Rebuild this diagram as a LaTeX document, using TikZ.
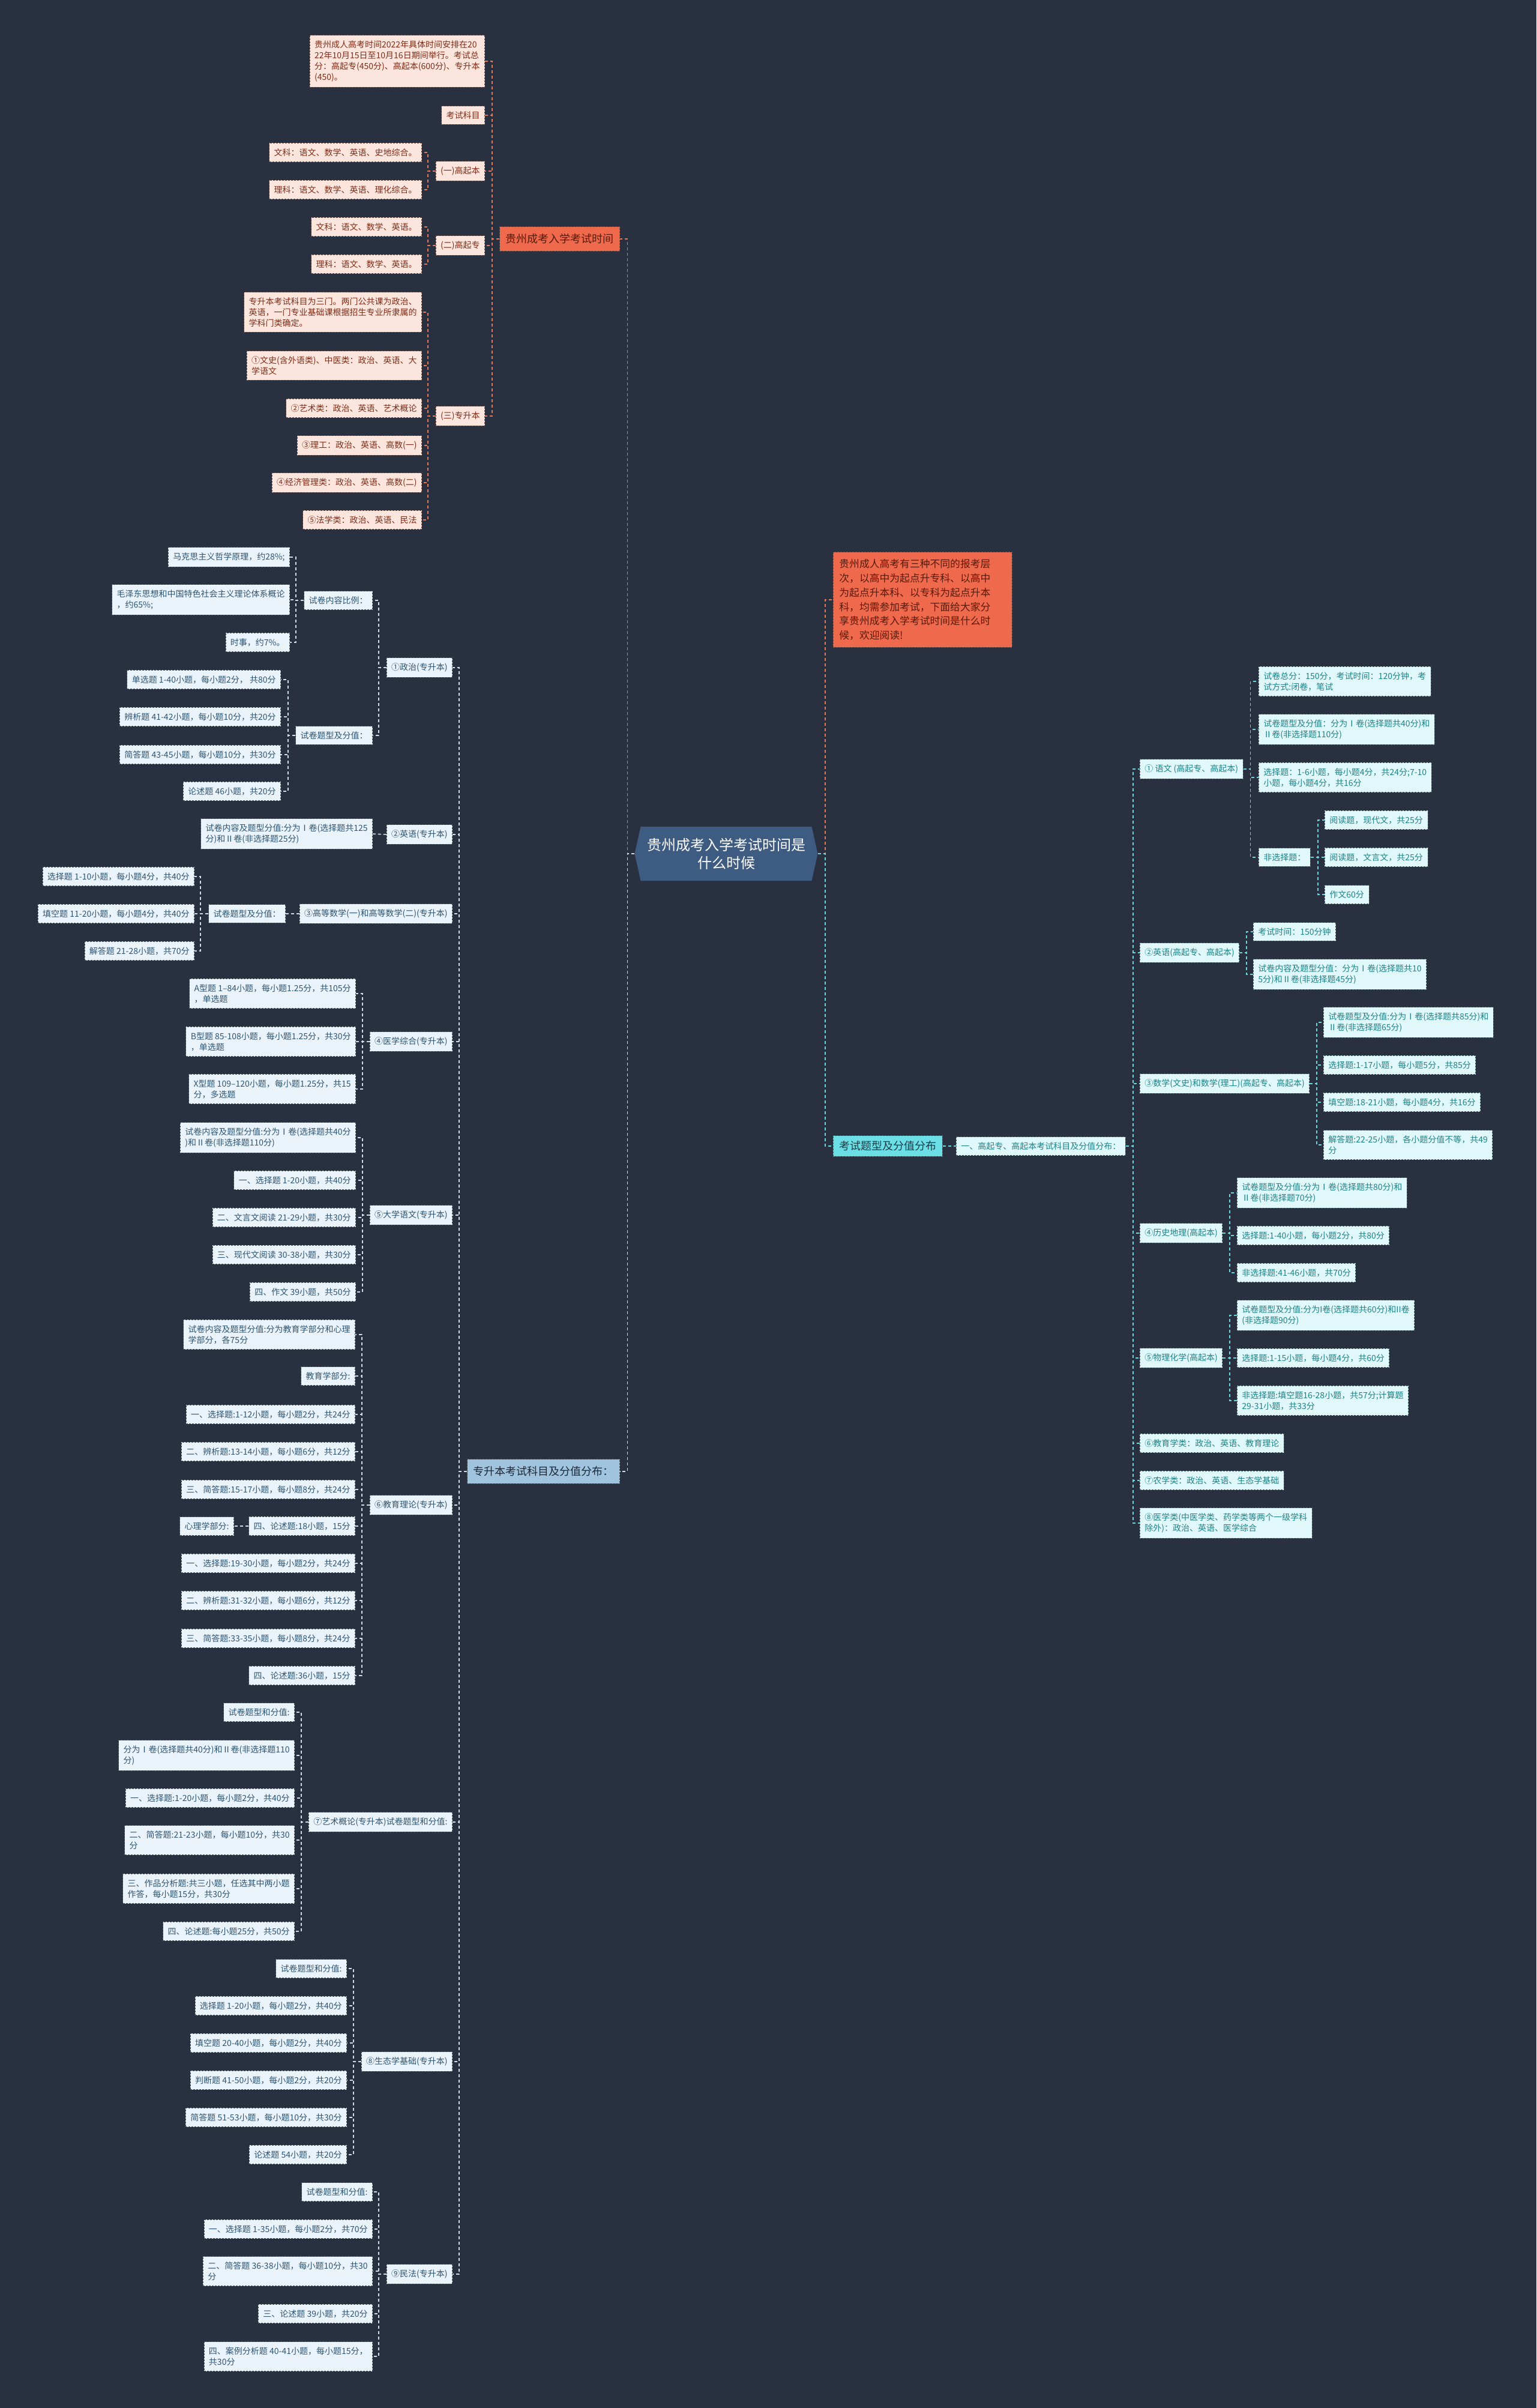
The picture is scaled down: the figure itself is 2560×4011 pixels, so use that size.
\documentclass[tikz,border=0pt]{standalone}
\usepackage{fontspec}
\setmainfont{Noto Sans CJK SC}
\usetikzlibrary{shapes.symbols}
\definecolor{bg}{RGB}{41,49,64}
\definecolor{cfill}{RGB}{62,91,130}
\definecolor{o1fill}{RGB}{239,106,76}
\definecolor{o1text}{RGB}{90,25,10}
\definecolor{olfill}{RGB}{252,229,220}
\definecolor{oltext}{RGB}{125,45,25}
\definecolor{olline}{RGB}{110,80,70}
\definecolor{ocol}{RGB}{226,120,92}
\definecolor{b1fill}{RGB}{160,196,222}
\definecolor{b1text}{RGB}{30,40,55}
\definecolor{blfill}{RGB}{234,243,249}
\definecolor{bltext}{RGB}{45,85,115}
\definecolor{blline}{RGB}{80,90,100}
\definecolor{bcol}{RGB}{205,220,230}
\definecolor{c1fill}{RGB}{108,222,230}
\definecolor{c1text}{RGB}{30,60,70}
\definecolor{clfill}{RGB}{224,248,250}
\definecolor{cltext}{RGB}{30,130,135}
\definecolor{clline}{RGB}{70,100,105}
\definecolor{ccol}{RGB}{108,214,222}
\tikzset{
  leaf/.style={rectangle, align=left, inner xsep=8pt, inner ysep=9pt,
    font=\fontsize{14}{18}\selectfont, draw, dash pattern=on 3pt off 2pt, line width=0.8pt},
  ol/.style={leaf, fill=olfill, draw=olline, text=oltext},
  bl/.style={leaf, fill=blfill, draw=blline, text=bltext},
  cl/.style={leaf, fill=clfill, draw=clline, text=cltext},
  lone/.style={rectangle, align=left, inner xsep=10pt, inner ysep=12pt,
    font=\fontsize{18}{22}\selectfont, draw, dash pattern=on 3pt off 2pt, line width=0.8pt},
  oc/.style={draw=ocol, line width=1.6pt, dash pattern=on 5pt off 4pt},
  bc/.style={draw=bcol, line width=1.6pt, dash pattern=on 5pt off 4pt},
  cc/.style={draw=ccol, line width=1.6pt, dash pattern=on 5pt off 4pt}
}
\begin{document}
\begin{tikzpicture}[x={(1pt,0pt)}, y={(0pt,-1pt)}]
\fill[bg] (0,0) rectangle (2560,4011);
\useasboundingbox (0,0) rectangle (2560,4011);

% central
\node[shape=signal, signal to=west and east, signal pointer angle=155,
  fill=cfill, text=white, font=\fontsize{24}{30}\selectfont, align=center,
  minimum width=305pt, minimum height=90pt, inner xsep=8pt] (c) at (1210,1422)
  {贵州成考入学考试时间是\\什么时候};

% ===== orange branch =====
\node[lone, fill=o1fill, draw=olline, text=o1text, anchor=east] (t1) at (1033,398) {贵州成考入学考试时间};
\node[ol, anchor=east] (t1a) at (808,102) {贵州成人高考时间2022年具体时间安排在20\\22年10月15日至10月16日期间举行。考试总\\分：高起专(450分)、高起本(600分)、专升本\\(450)。};
\node[ol, anchor=east] (t1b) at (808,192) {考试科目};
\node[ol, anchor=east] (t1c) at (808,285) {(一)高起本};
\node[ol, anchor=east] (t1d) at (808,409) {(二)高起专};
\node[ol, anchor=east] (t1e) at (808,693) {(三)专升本};
\node[ol, anchor=east] (t1c1) at (703,254) {文科：语文、数学、英语、史地综合。};
\node[ol, anchor=east] (t1c2) at (703,316) {理科：语文、数学、英语、理化综合。};
\node[ol, anchor=east] (t1d1) at (703,378) {文科：语文、数学、英语。};
\node[ol, anchor=east] (t1d2) at (703,440) {理科：语文、数学、英语。};
\node[ol, anchor=east] (t1e1) at (703,520) {专升本考试科目为三门。两门公共课为政治、\\英语，一门专业基础课根据招生专业所隶属的\\学科门类确定。};
\node[ol, anchor=east] (t1e2) at (703,609) {①文史(含外语类)、中医类：政治、英语、大\\学语文};
\node[ol, anchor=east] (t1e3) at (703,680) {②艺术类：政治、英语、艺术概论};
\node[ol, anchor=east] (t1e4) at (703,742) {③理工：政治、英语、高数(一)};
\node[ol, anchor=east] (t1e5) at (703,804) {④经济管理类：政治、英语、高数(二)};
\node[ol, anchor=east] (t1e6) at (703,866) {⑤法学类：政治、英语、民法};

\draw[oc] (c.west) -- ++(-12,0) |- (t1.east);
\foreach \n in {t1a,t1b,t1c,t1d,t1e} \draw[oc] (t1.west) -- ++(-12,0) |- (\n.east);
\foreach \n in {t1c1,t1c2} \draw[oc] (t1c.west) -- ++(-13,0) |- (\n.east);
\foreach \n in {t1d1,t1d2} \draw[oc] (t1d.west) -- ++(-13,0) |- (\n.east);
\foreach \n in {t1e1,t1e2,t1e3,t1e4,t1e5,t1e6} \draw[oc] (t1e.west) -- ++(-13,0) |- (\n.east);

% ===== blue branch =====
\node[lone, fill=b1fill, draw=blline, text=b1text, anchor=east] (b1) at (1033,2451) {专升本考试科目及分值分布：};
\node[bl, anchor=east] (p1) at (754,1112) {①政治(专升本)};
\node[bl, anchor=east] (p2) at (754,1390) {②英语(专升本)};
\node[bl, anchor=east] (p3) at (754,1522) {③高等数学(一)和高等数学(二)(专升本)};
\node[bl, anchor=east] (p4) at (754,1735) {④医学综合(专升本)};
\node[bl, anchor=east] (p5) at (754,2024) {⑤大学语文(专升本)};
\node[bl, anchor=east] (p6) at (754,2507) {⑥教育理论(专升本)};
\node[bl, anchor=east] (p7) at (754,3035) {⑦艺术概论(专升本)试卷题型和分值:};
\node[bl, anchor=east] (p8) at (754,3434) {⑧生态学基础(专升本)};
\node[bl, anchor=east] (p9) at (754,3788) {⑨民法(专升本)};

\node[bl, anchor=east] (p1a) at (621,1000) {试卷内容比例：};
\node[bl, anchor=east] (p1b) at (621,1225) {试卷题型及分值：};
\node[bl, anchor=east] (p1a1) at (483,928) {马克思主义哲学原理，约28\%;};
\node[bl, anchor=east] (p1a2) at (483,999) {毛泽东思想和中国特色社会主义理论体系概论\\，约65\%;};
\node[bl, anchor=east] (p1a3) at (483,1070) {时事，约7\%。};
\node[bl, anchor=east] (p1b1) at (468,1132) {单选题 1-40小题，每小题2分， 共80分};
\node[bl, anchor=east] (p1b2) at (468,1194) {辨析题 41-42小题，每小题10分，共20分};
\node[bl, anchor=east] (p1b3) at (468,1257) {简答题 43-45小题，每小题10分，共30分};
\node[bl, anchor=east] (p1b4) at (468,1318) {论述题 46小题，共20分};

\node[bl, anchor=east] (p2a) at (621,1389) {试卷内容及题型分值:分为Ⅰ卷(选择题共125\\分)和Ⅱ卷(非选择题25分)};

\node[bl, anchor=east] (p3a) at (476,1522) {试卷题型及分值：};
\node[bl, anchor=east] (p3a1) at (324,1460) {选择题 1-10小题，每小题4分，共40分};
\node[bl, anchor=east] (p3a2) at (324,1522) {填空题 11-20小题，每小题4分，共40分};
\node[bl, anchor=east] (p3a3) at (324,1584) {解答题 21-28小题，共70分};

\node[bl, anchor=east] (p4a) at (593,1655) {A型题 1--84小题，每小题1.25分，共105分\\，单选题};
\node[bl, anchor=east] (p4b) at (593,1735) {B型题 85-108小题，每小题1.25分，共30分\\，单选题};
\node[bl, anchor=east] (p4c) at (593,1814) {X型题 109--120小题，每小题1.25分，共15\\分，多选题};

\node[bl, anchor=east] (p5a) at (593,1895) {试卷内容及题型分值:分为Ⅰ卷(选择题共40分\\)和Ⅱ卷(非选择题110分)};
\node[bl, anchor=east] (p5b) at (593,1966) {一、选择题 1-20小题，共40分};
\node[bl, anchor=east] (p5c) at (593,2028) {二、文言文阅读 21-29小题，共30分};
\node[bl, anchor=east] (p5d) at (593,2090) {三、现代文阅读 30-38小题，共30分};
\node[bl, anchor=east] (p5e) at (593,2152) {四、作文 39小题，共50分};

\node[bl, anchor=east] (p6a) at (592,2223) {试卷内容及题型分值:分为教育学部分和心理\\学部分，各75分};
\node[bl, anchor=east] (p6b) at (592,2292) {教育学部分:};
\node[bl, anchor=east] (p6c) at (592,2356) {一、选择题:1-12小题，每小题2分，共24分};
\node[bl, anchor=east] (p6d) at (592,2418) {二、辨析题:13-14小题，每小题6分，共12分};
\node[bl, anchor=east] (p6e) at (592,2481) {三、简答题:15-17小题，每小题8分，共24分};
\node[bl, anchor=east] (p6f) at (592,2542) {四、论述题:18小题，15分};
\node[bl, anchor=east] (p6f1) at (390,2542) {心理学部分:};
\node[bl, anchor=east] (p6g) at (592,2604) {一、选择题:19-30小题，每小题2分，共24分};
\node[bl, anchor=east] (p6h) at (592,2666) {二、辨析题:31-32小题，每小题6分，共12分};
\node[bl, anchor=east] (p6i) at (592,2729) {三、简答题:33-35小题，每小题8分，共24分};
\node[bl, anchor=east] (p6j) at (592,2791) {四、论述题:36小题，15分};

\node[bl, anchor=east] (p7a) at (491,2852) {试卷题型和分值:};
\node[bl, anchor=east] (p7b) at (491,2924) {分为Ⅰ卷(选择题共40分)和Ⅱ卷(非选择题110\\分)};
\node[bl, anchor=east] (p7c) at (491,2995) {一、选择题:1-20小题，每小题2分，共40分};
\node[bl, anchor=east] (p7d) at (491,3065) {二、简答题:21-23小题，每小题10分，共30\\分};
\node[bl, anchor=east] (p7e) at (491,3146) {三、作品分析题:共三小题，任选其中两小题\\作答，每小题15分，共30分};
\node[bl, anchor=east] (p7f) at (491,3217) {四、论述题:每小题25分，共50分};

\node[bl, anchor=east] (p8a) at (578,3279) {试卷题型和分值:};
\node[bl, anchor=east] (p8b) at (578,3341) {选择题 1-20小题，每小题2分，共40分};
\node[bl, anchor=east] (p8c) at (578,3403) {填空题 20-40小题，每小题2分，共40分};
\node[bl, anchor=east] (p8d) at (578,3465) {判断题 41-50小题，每小题2分，共20分};
\node[bl, anchor=east] (p8e) at (578,3527) {简答题 51-53小题，每小题10分，共30分};
\node[bl, anchor=east] (p8f) at (578,3589) {论述题 54小题，共20分};

\node[bl, anchor=east] (p9a) at (621,3651) {试卷题型和分值:};
\node[bl, anchor=east] (p9b) at (621,3713) {一、选择题 1-35小题，每小题2分，共70分};
\node[bl, anchor=east] (p9c) at (621,3783) {二、简答题 36-38小题，每小题10分，共30\\分};
\node[bl, anchor=east] (p9d) at (621,3854) {三、论述题 39小题，共20分};
\node[bl, anchor=east] (p9e) at (621,3925) {四、案例分析题 40-41小题，每小题15分，\\共30分};

\draw[bc] (c.west) -- ++(-12,0) |- (b1.east);
\foreach \n in {p1,p2,p3,p4,p5,p6,p7,p8,p9} \draw[bc] (b1.west) -- ++(-13,0) |- (\n.east);
\foreach \n in {p1a,p1b} \draw[bc] (p1.west) -- ++(-13,0) |- (\n.east);
\foreach \n in {p1a1,p1a2,p1a3} \draw[bc] (p1a.west) -- ++(-13,0) |- (\n.east);
\foreach \n in {p1b1,p1b2,p1b3,p1b4} \draw[bc] (p1b.west) -- ++(-12,0) |- (\n.east);
\draw[bc] (p2.west) -- (p2a.east);
\draw[bc] (p3.west) -- (p3a.east);
\foreach \n in {p3a1,p3a2,p3a3} \draw[bc] (p3a.west) -- ++(-13,0) |- (\n.east);
\foreach \n in {p4a,p4b,p4c} \draw[bc] (p4.west) -- ++(-12,0) |- (\n.east);
\foreach \n in {p5a,p5b,p5c,p5d,p5e} \draw[bc] (p5.west) -- ++(-12,0) |- (\n.east);
\foreach \n in {p6a,p6b,p6c,p6d,p6e,p6f,p6g,p6h,p6i,p6j} \draw[bc] (p6.west) -- ++(-13,0) |- (\n.east);
\draw[bc] (p6f.west) -- (p6f1.east);
\foreach \n in {p7a,p7b,p7c,p7d,p7e,p7f} \draw[bc] (p7.west) -- ++(-12,0) |- (\n.east);
\foreach \n in {p8a,p8b,p8c,p8d,p8e,p8f} \draw[bc] (p8.west) -- ++(-13,0) |- (\n.east);
\foreach \n in {p9a,p9b,p9c,p9d,p9e} \draw[bc] (p9.west) -- ++(-13,0) |- (\n.east);

% ===== right side =====
\node[rectangle, align=left, text width=278pt, inner xsep=10pt, inner ysep=12pt, fill=o1fill, draw=olline,
  dash pattern=on 3pt off 2pt, line width=0.8pt, text=o1text,
  font=\fontsize{16.8}{23.8}\selectfont, anchor=west] (intro) at (1388,999)
  {贵州成人高考有三种不同的报考层\\次，以高中为起点升专科、以高中\\为起点升本科、以专科为起点升本\\科，均需参加考试，下面给大家分\\享贵州成考入学考试时间是什么时\\候，欢迎阅读!};
\node[lone, fill=c1fill, draw=clline, text=c1text, anchor=west, inner ysep=9pt] (r1) at (1388,1909) {考试题型及分值分布};
\node[cl, anchor=west] (r2) at (1593,1909) {一、高起专、高起本考试科目及分值分布：};

\node[cl, anchor=west] (s1) at (1899,1281) {① 语文 (高起专、高起本)};
\node[cl, anchor=west] (s2) at (1899,1587) {②英语(高起专、高起本)};
\node[cl, anchor=west] (s3) at (1899,1805) {③数学(文史)和数学(理工)(高起专、高起本)};
\node[cl, anchor=west] (s4) at (1899,2054) {④历史地理(高起本)};
\node[cl, anchor=west] (s5) at (1899,2262) {⑤物理化学(高起本)};
\node[cl, anchor=west] (s6) at (1899,2404) {⑥教育学类：政治、英语、教育理论};
\node[cl, anchor=west] (s7) at (1899,2466) {⑦农学类：政治、英语、生态学基础};
\node[cl, anchor=west] (s8) at (1899,2537) {⑧医学类(中医学类、药学类等两个一级学科\\除外)：政治、英语、医学综合};

\node[cl, anchor=west] (s1a) at (2097,1135) {试卷总分：150分，考试时间：120分钟，考\\试方式:闭卷，笔试};
\node[cl, anchor=west] (s1b) at (2097,1215) {试卷题型及分值：分为Ⅰ卷(选择题共40分)和\\Ⅱ卷(非选择题110分)};
\node[cl, anchor=west] (s1c) at (2097,1295) {选择题：1-6小题，每小题4分，共24分;7-10\\小题，每小题4分，共16分};
\node[cl, anchor=west] (s1d) at (2097,1428) {非选择题：};
\node[cl, anchor=west] (s1d1) at (2207,1366) {阅读题，现代文，共25分};
\node[cl, anchor=west] (s1d2) at (2207,1428) {阅读题，文言文，共25分};
\node[cl, anchor=west] (s1d3) at (2207,1490) {作文60分};

\node[cl, anchor=west] (s2a) at (2088,1552) {考试时间：150分钟};
\node[cl, anchor=west] (s2b) at (2088,1623) {试卷内容及题型分值：分为Ⅰ卷(选择题共10\\5分)和Ⅱ卷(非选择题45分)};

\node[cl, anchor=west] (s3a) at (2205,1703) {试卷题型及分值:分为Ⅰ卷(选择题共85分)和\\Ⅱ卷(非选择题65分)};
\node[cl, anchor=west] (s3b) at (2205,1774) {选择题:1-17小题，每小题5分，共85分};
\node[cl, anchor=west] (s3c) at (2205,1836) {填空题:18-21小题，每小题4分，共16分};
\node[cl, anchor=west] (s3d) at (2205,1907) {解答题:22-25小题，各小题分值不等，共49\\分};

\node[cl, anchor=west] (s4a) at (2061,1987) {试卷题型及分值:分为Ⅰ卷(选择题共80分)和\\Ⅱ卷(非选择题70分)};
\node[cl, anchor=west] (s4b) at (2061,2058) {选择题:1-40小题，每小题2分，共80分};
\node[cl, anchor=west] (s4c) at (2061,2120) {非选择题:41-46小题，共70分};

\node[cl, anchor=west] (s5a) at (2061,2191) {试卷题型及分值:分为I卷(选择题共60分)和II卷\\(非选择题90分)};
\node[cl, anchor=west] (s5b) at (2061,2262) {选择题:1-15小题，每小题4分，共60分};
\node[cl, anchor=west] (s5c) at (2061,2333) {非选择题:填空题16-28小题，共57分;计算题\\29-31小题，共33分};

\draw[oc] (c.east) -- ++(12,0) |- (intro.west);
\draw[cc] (c.east) -- ++(12,0) |- (r1.west);
\draw[cc] (r1.east) -- (r2.west);
\foreach \n in {s1,s2,s3,s4,s5,s6,s7,s8} \draw[cc] (r2.east) -- ++(12,0) |- (\n.west);
\foreach \n in {s1a,s1b,s1c,s1d} \draw[cc] (s1.east) -- ++(12,0) |- (\n.west);
\foreach \n in {s1d1,s1d2,s1d3} \draw[cc] (s1d.east) -- ++(12,0) |- (\n.west);
\foreach \n in {s2a,s2b} \draw[cc] (s2.east) -- ++(12,0) |- (\n.west);
\foreach \n in {s3a,s3b,s3c,s3d} \draw[cc] (s3.east) -- ++(12,0) |- (\n.west);
\foreach \n in {s4a,s4b,s4c} \draw[cc] (s4.east) -- ++(12,0) |- (\n.west);
\foreach \n in {s5a,s5b,s5c} \draw[cc] (s5.east) -- ++(12,0) |- (\n.west);
\end{tikzpicture}
\end{document}
